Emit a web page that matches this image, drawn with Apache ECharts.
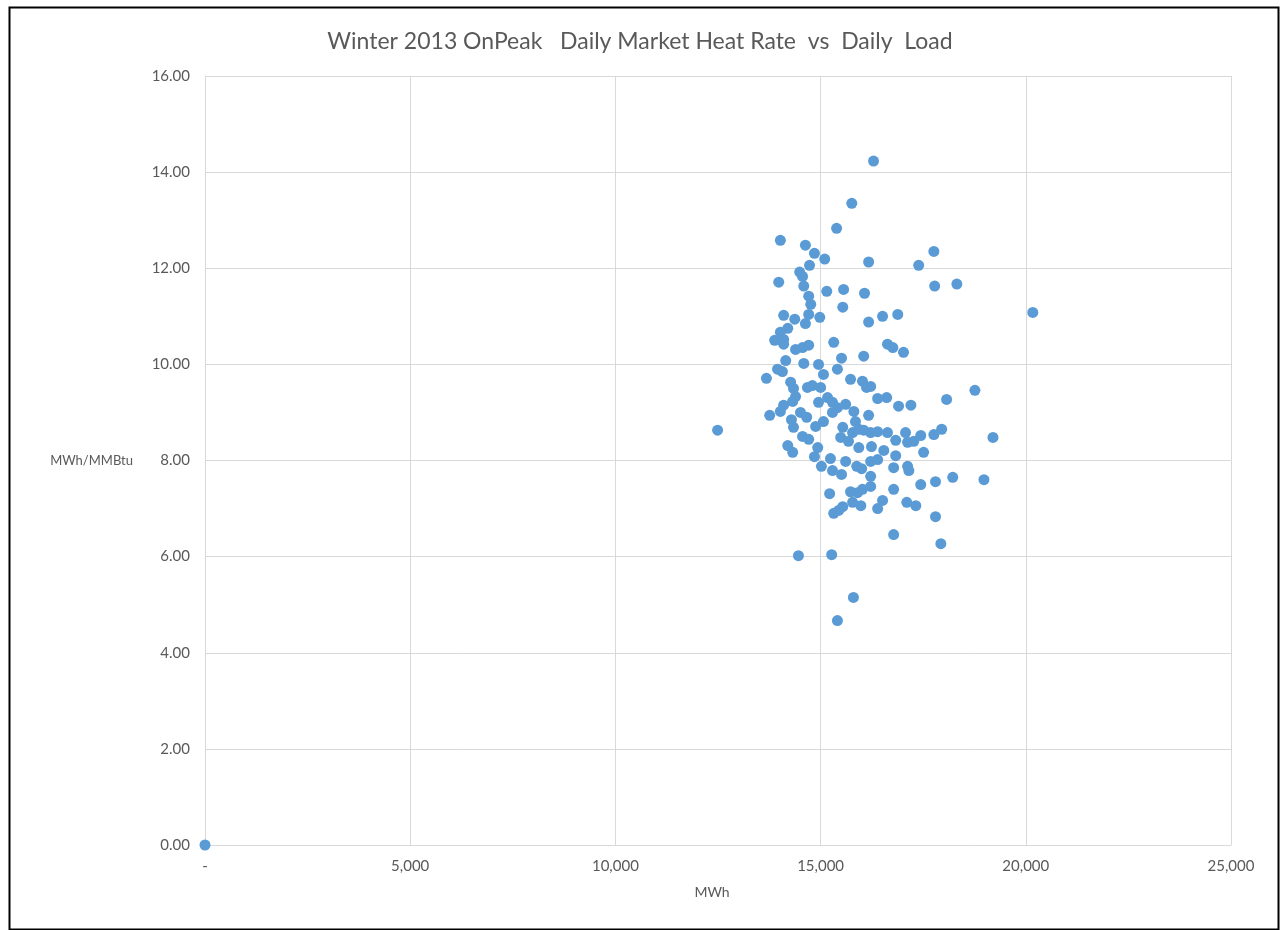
<!DOCTYPE html>
<html>
<head>
<meta charset="utf-8">
<title>Winter 2013 OnPeak Daily Market Heat Rate vs Daily Load</title>
<script src="https://cdn.jsdelivr.net/npm/echarts@6/dist/echarts.min.js"></script>
<style>
  html, body { margin: 0; padding: 0; background: #ffffff; }
  #chart { width: 1280px; height: 930px; }
</style>
</head>
<body>
<div id="chart"></div>
<script>
// Daily on-peak load (MWh) for each winter day
const loadMWh = [
  0, 12490,
  16290, 15760, 15390, 14020, 14630, 14850, 15100, 16170, 14730, 17390, 17760, 14490,
  14560, 13980, 14590, 15150, 15560, 16070, 17780, 18320, 14710, 14760, 15540, 20170,
  14710, 14100, 14370, 14630, 14980, 16170, 16510, 16880, 14200, 14020, 13880, 14100,
  14100, 14390, 14560, 14710, 15320, 16630, 16760, 17020, 16050, 15510, 14150, 14590,
  14950, 15410, 15070, 13950, 14070, 13680, 15730, 16020, 16120, 16220, 18760, 18070,
  14270, 14340, 14680, 14800, 15000, 14950, 15170, 15290, 15410, 15610, 15810, 16390,
  16610, 16900, 17200, 16170, 14390, 14320, 14100, 14020, 13760, 14290, 14340, 14510,
  14660, 14880, 15070, 15290, 15540, 15850, 15780, 15490, 15680, 15930, 16050, 16220,
  16390, 16630, 17070, 17440, 17760, 17950, 19200, 16830, 17120, 17270, 14560, 14710,
  14200, 14320, 14930, 14850, 15240, 15610, 15020, 15290, 15510, 15880, 16000, 15930,
  16240, 16540, 16830, 17510, 16220, 16390, 16780, 17120, 17150, 16220, 16220, 16780,
  17440, 17800, 18220, 18980, 15220, 15730, 15900, 16020, 15780, 15980, 16510, 16390,
  17100, 17320, 15320, 15440, 15540, 17800, 16780, 17930, 14460, 15270, 15800, 15410
];

// Daily market heat rate (MWh/MMBtu), same order as loadMWh
const heatRate = [
  0, 8.63,
  14.23, 13.35, 12.83, 12.58, 12.48, 12.31, 12.19, 12.13, 12.06, 12.06, 12.35, 11.92,
  11.83, 11.71, 11.63, 11.52, 11.56, 11.48, 11.63, 11.67, 11.42, 11.25, 11.19, 11.08,
  11.04, 11.02, 10.94, 10.85, 10.98, 10.88, 11.00, 11.04, 10.75, 10.67, 10.50, 10.52,
  10.42, 10.31, 10.35, 10.40, 10.46, 10.42, 10.35, 10.25, 10.17, 10.13, 10.08, 10.02,
  10.00, 9.90, 9.79, 9.90, 9.85, 9.71, 9.69, 9.65, 9.52, 9.54, 9.46, 9.27,
  9.63, 9.50, 9.52, 9.56, 9.52, 9.21, 9.31, 9.21, 9.10, 9.17, 9.02, 9.29,
  9.31, 9.13, 9.15, 8.94, 9.33, 9.23, 9.15, 9.02, 8.94, 8.85, 8.69, 9.00,
  8.90, 8.71, 8.81, 9.00, 8.69, 8.81, 8.58, 8.48, 8.40, 8.65, 8.63, 8.58,
  8.60, 8.58, 8.58, 8.52, 8.54, 8.65, 8.48, 8.42, 8.38, 8.40, 8.50, 8.44,
  8.31, 8.17, 8.27, 8.08, 8.04, 7.98, 7.88, 7.79, 7.71, 7.88, 7.83, 8.27,
  8.29, 8.21, 8.10, 8.17, 7.98, 8.02, 7.85, 7.88, 7.79, 7.67, 7.46, 7.40,
  7.50, 7.56, 7.65, 7.60, 7.31, 7.35, 7.33, 7.40, 7.13, 7.06, 7.17, 7.00,
  7.13, 7.06, 6.90, 6.96, 7.04, 6.83, 6.46, 6.27, 6.02, 6.04, 5.15, 4.67
];

// Axis ranges and tick steps
const xTicks = { min: 0, max: 25000, step: 5000 };
const yTicks = { min: 0, max: 16, step: 2 };

const points = loadMWh.map((x, i) => [x, heatRate[i]]);

const textColor = '#595959';
const gridColor = '#d9d9d9';
const font = 'Lato, "Open Sans", sans-serif';

const chart = echarts.init(document.getElementById('chart'), null, { renderer: 'canvas' });

chart.setOption({
  backgroundColor: '#ffffff',
  animation: false,
  title: {
    text: 'Winter 2013 OnPeak   Daily Market Heat Rate  vs  Daily  Load',
    left: 'center',
    top: 25,
    textStyle: { color: textColor, fontSize: 23, fontWeight: 'normal', fontFamily: font }
  },
  grid: { left: 205, right: 49, top: 76, bottom: 85, containLabel: false },
  xAxis: {
    type: 'value',
    min: xTicks.min, max: xTicks.max, interval: xTicks.step,
    name: 'MWh',
    nameLocation: 'middle',
    nameGap: 40,
    nameTextStyle: { color: textColor, fontSize: 14, fontFamily: font, padding: [0, 12, 0, 0] },
    axisLine: { show: true, lineStyle: { color: gridColor, width: 1 } },
    axisTick: { show: false },
    splitLine: { show: true, lineStyle: { color: gridColor, width: 1 } },
    axisLabel: {
      color: textColor, fontSize: 15, fontFamily: font, margin: 14,
      formatter: v => v === 0 ? '-' : v.toLocaleString('en-US')
    }
  },
  yAxis: {
    type: 'value',
    min: yTicks.min, max: yTicks.max, interval: yTicks.step,
    name: 'MWh/MMBtu',
    nameLocation: 'middle',
    nameRotate: 0,
    nameGap: 72,
    nameTextStyle: { color: textColor, fontSize: 13, fontFamily: font },
    axisLine: { show: true, lineStyle: { color: gridColor, width: 1 } },
    axisTick: { show: false },
    splitLine: { show: true, lineStyle: { color: gridColor, width: 1 } },
    axisLabel: {
      color: textColor, fontSize: 15, fontFamily: font, margin: 15,
      formatter: v => v.toFixed(2)
    }
  },
  series: [{
    type: 'scatter',
    data: points,
    symbol: 'circle',
    symbolSize: 11,
    itemStyle: { color: '#5b9bd5', opacity: 1 }
  }],
  graphic: [{
    type: 'rect',
    left: 7, top: 5,
    shape: { width: 1269, height: 922 },
    style: { fill: 'none', stroke: '#000000', lineWidth: 2 },
    silent: true
  }]
});
</script>
</body>
</html>
